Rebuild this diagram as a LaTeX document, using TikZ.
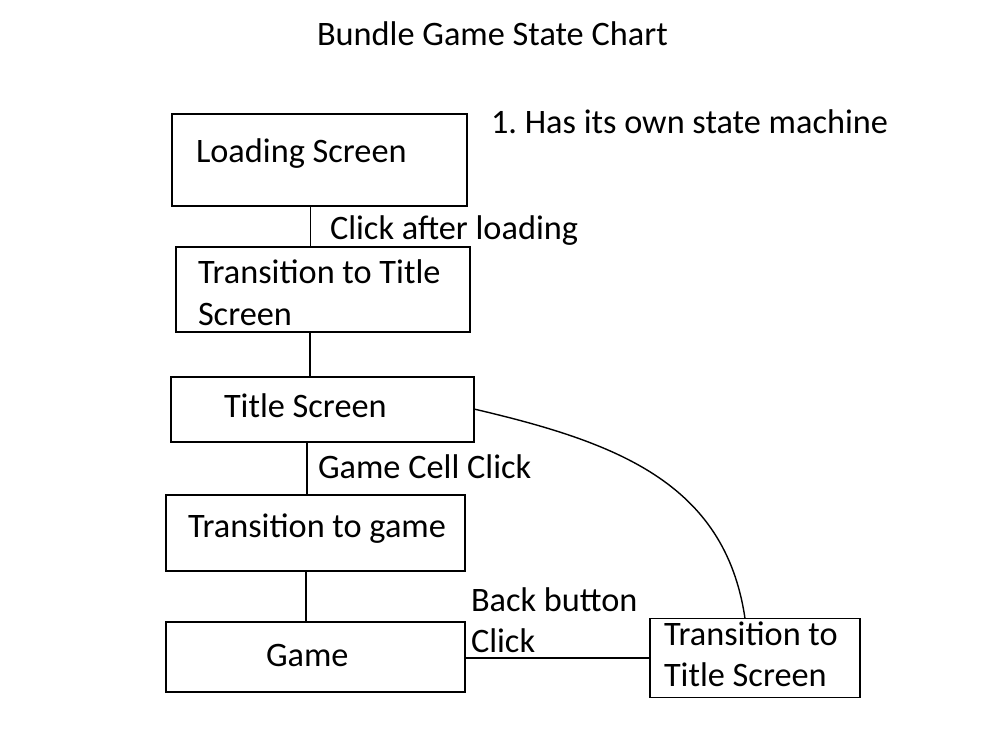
\documentclass[tikz,border=0pt]{standalone}
\usepackage{fontspec}
\setmainfont{Carlito}
\frenchspacing
\begin{document}
\begin{tikzpicture}[x=1pt,y=-1pt,
  box/.style={draw=black,line width=1.6pt,inner sep=0pt,outer sep=0pt,fill=white},
  txt/.style={anchor=base west,inner sep=0pt,outer sep=0pt,font=\fontsize{34.3}{42}\selectfont},
  conn/.style={draw=black,line width=1.4pt}]
\useasboundingbox[fill=white] (0,0) rectangle (1000,750);
% boxes
\node[box,minimum width=295pt,minimum height=92pt] (ls) at (319.5,160) {};
\node[box,minimum width=294pt,minimum height=85pt] (t1) at (323,289.5) {};
\node[box,minimum width=303pt,minimum height=65pt] (ts) at (322.5,409.5) {};
\node[box,minimum width=299pt,minimum height=76pt] (tg) at (315.5,533) {};
\node[box,minimum width=299pt,minimum height=70pt] (gm) at (315.5,657) {};
\node[box,minimum width=210pt,minimum height=79pt] (t2) at (755,658) {};
% texts
\node[txt] (title) at (317,45) {Bundle Game State Chart};
\node[txt] (note) at (491,133.5) {1. Has its own state machine};
\node[txt] (lsl) at (196,162) {Loading Screen};
\node[txt] (cal) at (330,239.5) {Click after loading};
\node[txt] (t1a) at (198,283) {Transition to Title};
\node[txt] (t1b) at (198,325.5) {Screen};
\node[txt] (tsl) at (224,417.7) {Title Screen};
\node[txt] (gcc) at (318,478) {Game Cell Click};
\node[txt] (tgl) at (188,537) {Transition to game};
\node[txt] (bb1) at (471,611) {Back button};
\node[txt] (bb2) at (471,652) {Click};
\node[txt] (gml) at (266,666) {Game};
\node[txt] (t2a) at (664,645) {Transition to};
\node[txt] (t2b) at (664,686) {Title Screen};
% connectors
\draw[conn] ([xshift=-9pt]ls.south) -- ([xshift=-12.5pt]t1.north);
\draw[conn] ([xshift=-13pt]t1.south) -- ([xshift=-12.5pt]ts.north);
\draw[conn] ([xshift=-15.5pt]ts.south) -- ([xshift=-8.5pt]tg.north);
\draw[conn] ([xshift=-9.5pt]tg.south) -- ([xshift=-9.5pt]gm.north);
\draw[conn] ([yshift=-1pt]gm.east) -- (t2.west);
\draw[conn] ([yshift=0.5pt]ts.east) .. controls (615,442) and (725,482) .. ([xshift=-10pt]t2.north);
\end{tikzpicture}
\end{document}
